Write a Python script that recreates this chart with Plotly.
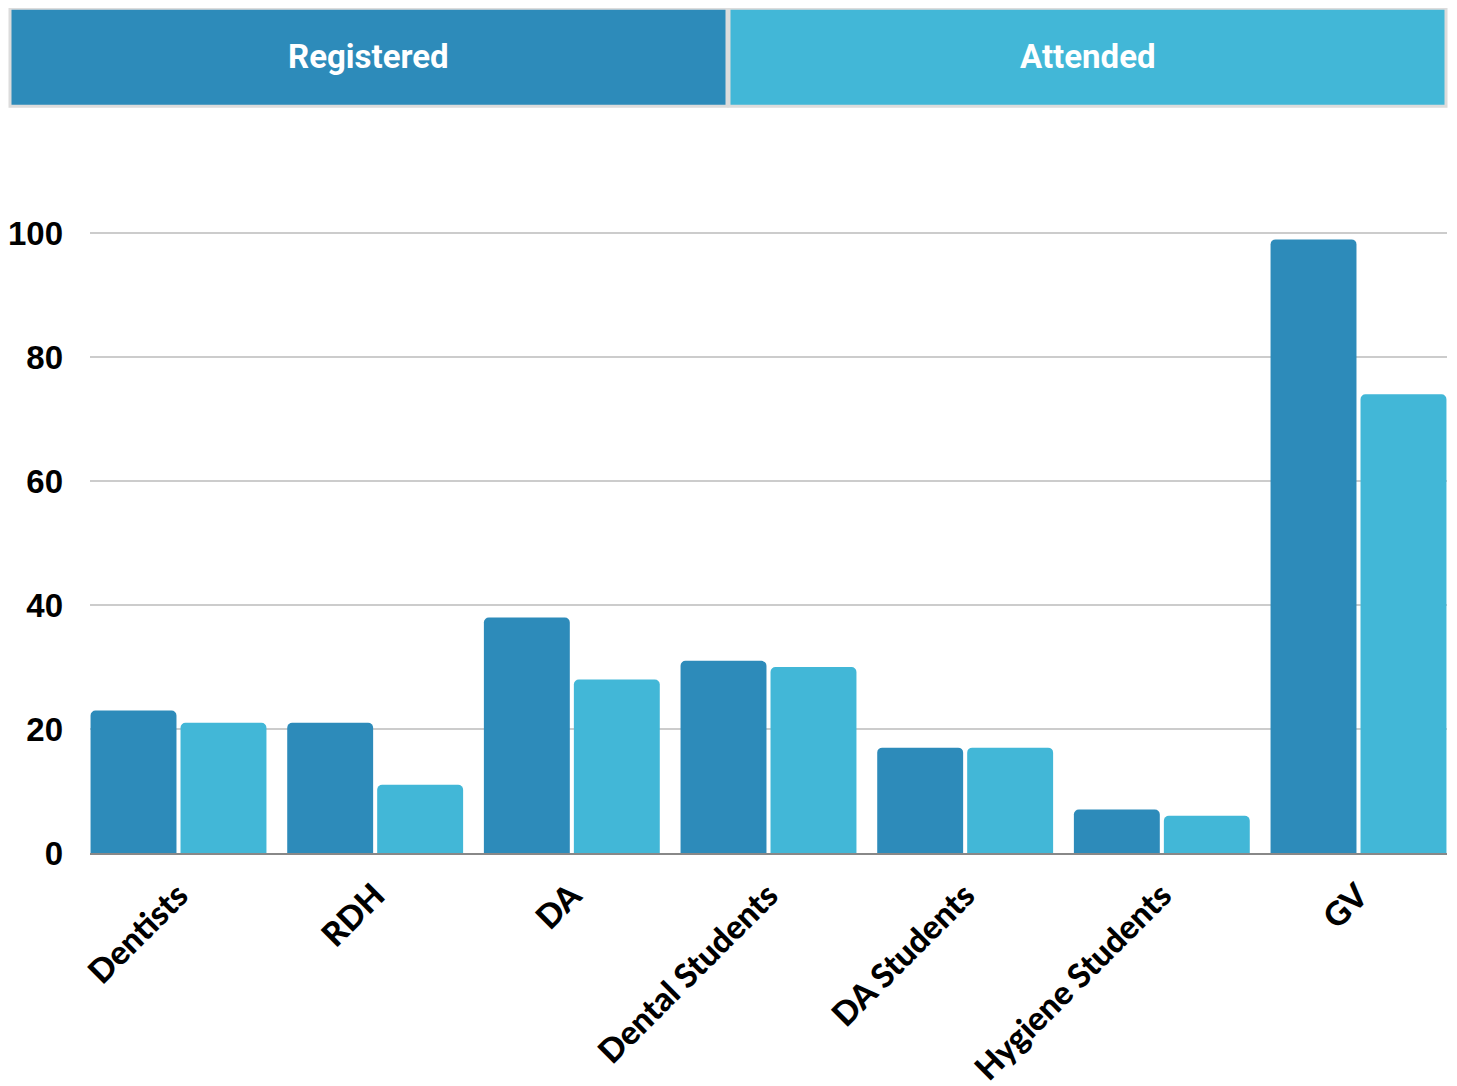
import plotly.graph_objects as go

categories = ["Dentists", "RDH", "DA", "Dental Students", "DA Students", "Hygiene Students", "GV"]
registered = [23, 21, 38, 31, 17, 7, 99]
attended = [21, 11, 28, 30, 17, 6, 74]
series_names = ["Registered", "Attended"]
colors = ["#2d8bba", "#42b7d7"]
y_ticks = [0, 20, 40, 60, 80, 100]

fig = go.Figure()
for name, vals, col in zip(series_names, [registered, attended], colors):
    fig.add_trace(go.Bar(
        x=categories, y=vals, name=name,
        marker=dict(color=col, line=dict(width=0), cornerradius=5),
        showlegend=False,
    ))

# page offset (body margin 8px) compensation
OFF = 8
W, H = 1457 - OFF, 1086 - OFF
YMAX = 101
PL, PR, PB = 90, 1447, 853  # plot area in screen px
PT = PB - (PB - 233) * YMAX / 100.0


def px_x(px):
    return (px - PL) / (PR - PL)


def px_y(py):
    return (PB - py) / (PB - PT)


box_top = px_y(8)
box_bot = px_y(106)
lefts = [px_x(10), px_x(729)]
rights = [px_x(727), px_x(1446)]
for i, (name, col) in enumerate(zip(series_names, colors)):
    fig.add_shape(type="rect", xref="paper", yref="paper",
                  x0=lefts[i], x1=rights[i], y0=box_bot, y1=box_top,
                  fillcolor=col, line=dict(color="#dcdcdc", width=3), layer="above")
    fig.add_annotation(xref="paper", yref="paper",
                       x=(lefts[i] + rights[i]) / 2, y=px_y(56),
                       xanchor="center", yanchor="middle",
                       text=name, showarrow=False,
                       font=dict(family="Roboto", size=33, color="white", weight="bold"))

fig.update_layout(
    width=W, height=H,
    margin=dict(l=PL - OFF, r=W - (PR - OFF), t=PT - OFF, b=H - (PB - OFF), autoexpand=False),
    paper_bgcolor="white", plot_bgcolor="white",
    barmode="group", bargap=0.085, bargroupgap=0.045,
    xaxis=dict(
        type="category", range=[-0.45, 6.45],
        tickangle=-45, showgrid=False, ticks="",
        tickfont=dict(family="Lato", size=33, color="black", weight=900),
        ticklabelstandoff=8,
        showline=True, linecolor="#888888", linewidth=2,
    ),
    yaxis=dict(
        range=[0, YMAX], tickvals=y_ticks, ticks="",
        showgrid=True, gridcolor="#cccccc", gridwidth=2,
        zeroline=False,
        tickfont=dict(family="Liberation Sans", size=33, color="black", weight="bold"),
        ticklabelstandoff=26,
    ),
)

fig.write_html("out.html")
